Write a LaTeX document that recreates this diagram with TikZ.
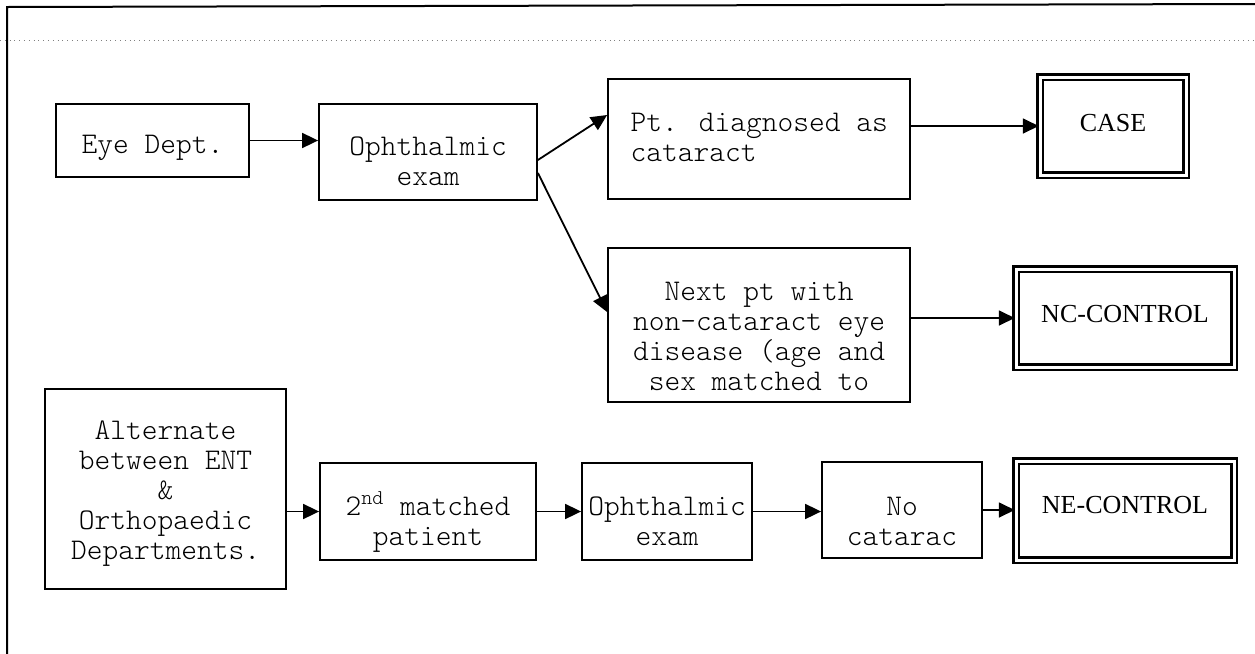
\documentclass[tikz,border=0pt]{standalone}
\usepackage{fontspec}
\newfontfamily\capsfont{Liberation Serif}
\usetikzlibrary{arrows.meta}

\tikzset{
  stepbox/.style={draw, line width=0.9pt, inner sep=0pt},
  endbox/.style={draw, double, line width=1.25pt, double distance=1.5pt, inner sep=0pt},
  boxtext/.style={align=center, font={\ttfamily\fontseries{l}\fontsize{15}{15}\selectfont}},
  endtext/.style={font={\capsfont\fontsize{13}{15}\selectfont}},
  arr/.style={-{Triangle[length=8pt,width=7.5pt]}, line width=0.9pt}
}

\begin{document}
\begin{tikzpicture}[x=0.5pt, y=-0.5pt]
    \useasboundingbox (0,0) rectangle (1255,654);
    % page frame
    \draw [line width=1pt] (7,654) -- (7,7) -- (1255,4);
    \draw [gray, dotted] (0,40) -- (1255,40);

    % eye department route
    \node (eye) [stepbox, minimum width=96.5pt, minimum height=36.5pt,
      label={[boxtext, yshift=-3.5pt]center:Eye Dept.}] at (152.5,140.5) {};
    \node (exam) [stepbox, minimum width=109pt, minimum height=48pt,
      label={[boxtext, yshift=-4.75pt]center:{Ophthalmic\\exam}}] at (428,152) {};
    \node (diag) [stepbox, minimum width=151pt, minimum height=60pt,
      label={[boxtext, align=left, anchor=west, inner sep=0pt, xshift=11.5pt, yshift=0.75pt]west:{Pt. diagnosed as\\cataract}}] at (759,139) {};
    \node (case) [endbox, minimum width=73pt, minimum height=49pt,
      label={[endtext, yshift=1.25pt]center:CASE}] at (1113,126) {};
    \node (nextpt) [stepbox, minimum width=151pt, minimum height=77pt,
      label={[boxtext, yshift=-5.75pt]center:{Next pt with\\non-cataract eye\\disease (age and\\sex matched to}}] at (759,325) {};
    \node (nc) [endbox, minimum width=109pt, minimum height=49pt,
      label={[endtext, yshift=1.75pt]center:NC-CONTROL}] at (1125,318) {};

    % ENT / orthopaedic route
    \node (alt) [stepbox, minimum width=120.5pt, minimum height=100pt,
      label={[boxtext, yshift=-2.25pt]center:{Alternate\\between ENT\\\&\\Orthopaedic\\Departments.}}] at (165.5,489) {};
    \node (match) [stepbox, minimum width=108pt, minimum height=48.5pt,
      label={[boxtext, yshift=-5.25pt]center:{2\textsuperscript{nd} matched\\patient}}] at (428,511.5) {};
    \node (exam2) [stepbox, minimum width=85pt, minimum height=48.5pt,
      label={[boxtext, yshift=-5pt]center:{Ophthalmic\\exam}}] at (667,511.5) {};
    \node (nocat) [stepbox, minimum width=80pt, minimum height=48pt,
      label={[boxtext, yshift=-5.75pt]center:{No\\catarac}}] at (902,510) {};
    \node (ne) [endbox, minimum width=109pt, minimum height=49.5pt,
      label={[endtext, yshift=2.5pt]center:NE-CONTROL}] at (1125,510.5) {};

    \draw [arr] (eye.east) -- (eye.east -| exam.west);
    \draw [arr] ([yshift=-4pt]exam.east) -- ([yshift=12pt]diag.west);
    \draw [arr] ([yshift=-10.5pt]exam.east) -- ([yshift=6.5pt]nextpt.west);
    \draw [arr] (diag.east |- case.west) -- (case.west);
    \draw [arr] (nextpt.east |- nc.west) -- (nc.west);
    \draw [arr] (alt.east |- match.west) -- (match.west);
    \draw [arr] (match.east) -- (exam2.west);
    \draw [arr] (exam2.east) -- (exam2.east -| nocat.west);
    \draw [arr] (nocat.east) -- (nocat.east -| ne.west);
  \end{tikzpicture}
\end{document}
